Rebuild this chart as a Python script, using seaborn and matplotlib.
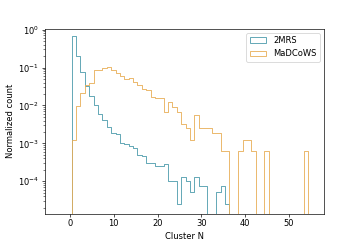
import numpy as np
import pandas as pd
import matplotlib
matplotlib.use('Agg')
import matplotlib.pyplot as plt
from matplotlib.patches import Patch
import seaborn as sns

# normalized counts per cluster-N bin (bin width 1, first bin starts at 0.4)
mrs_vals = [0.68, 0.20, 0.078, 0.033, 0.018, 0.010, 0.0060, 0.0042, 0.0027, 0.0019,
            0.0018, 0.0010, 0.00095, 0.00085, 0.00077, 0.00049, 0.00047, 0.00031, 0.00030, 0.00026,
            0.00026, 0.00028, 0.000102, 0.000102, 0.0000256, 0.000128, 0.000102, 0.0000512, 0.000128, 0.0000768,
            0.0000768, 0, 0, 0.0000512, 0.0000768, 0.0000256]
madcows_vals = [0.00126, 0.0095, 0.021, 0.035, 0.040, 0.087, 0.087, 0.098, 0.103, 0.088,
                0.073, 0.061, 0.051, 0.053, 0.042, 0.034, 0.027, 0.026, 0.0165, 0.016,
                0.0155, 0.0069, 0.0123, 0.0091, 0.0066, 0.0032, 0.0025, 0.00126, 0.0057, 0.0025,
                0.0025, 0.0025, 0.0019, 0.0019, 0.00063, 0.00063, 0, 0, 0.00063, 0.00126,
                0.00126, 0.00063, 0, 0, 0.00063, 0, 0, 0, 0, 0,
                0, 0, 0, 0.00063]
labels = ['2MRS', 'MaDCoWS']
colors = ['#4a9aab', '#e8ad55']

start = 0.4
# one empty bin on each side so the outline drops to the baseline
edges = list(np.arange(start - 1, start + len(madcows_vals) + 1.5, 1))

rows = []
for lab, vals in zip(labels, [mrs_vals, madcows_vals]):
    for i, v in enumerate(vals):
        rows.append({'n': start + i + 0.5, 'w': v, 'sample': lab})
df = pd.DataFrame(rows)

fig, ax = plt.subplots(figsize=(6, 4), dpi=60)
for lab, c in zip(labels, colors):
    sub = df[df['sample'] == lab]
    sns.histplot(data=sub, x='n', weights='w', bins=edges, element='step', fill=False,
                 color=c, linewidth=1.0, ax=ax)

ax.set_yscale('log')
ax.set_ylim(1.4e-5, 1.05)
ax.set_xlim(-5.7, 58)
ax.set_xticks([0, 10, 20, 30, 40, 50])
ax.set_xlabel('Cluster N')
ax.set_ylabel('Normalized count')

handles = [Patch(facecolor='none', edgecolor=c, linewidth=1.0) for c in colors]
ax.legend(handles, labels, loc='upper right')

plt.savefig('out.png')
